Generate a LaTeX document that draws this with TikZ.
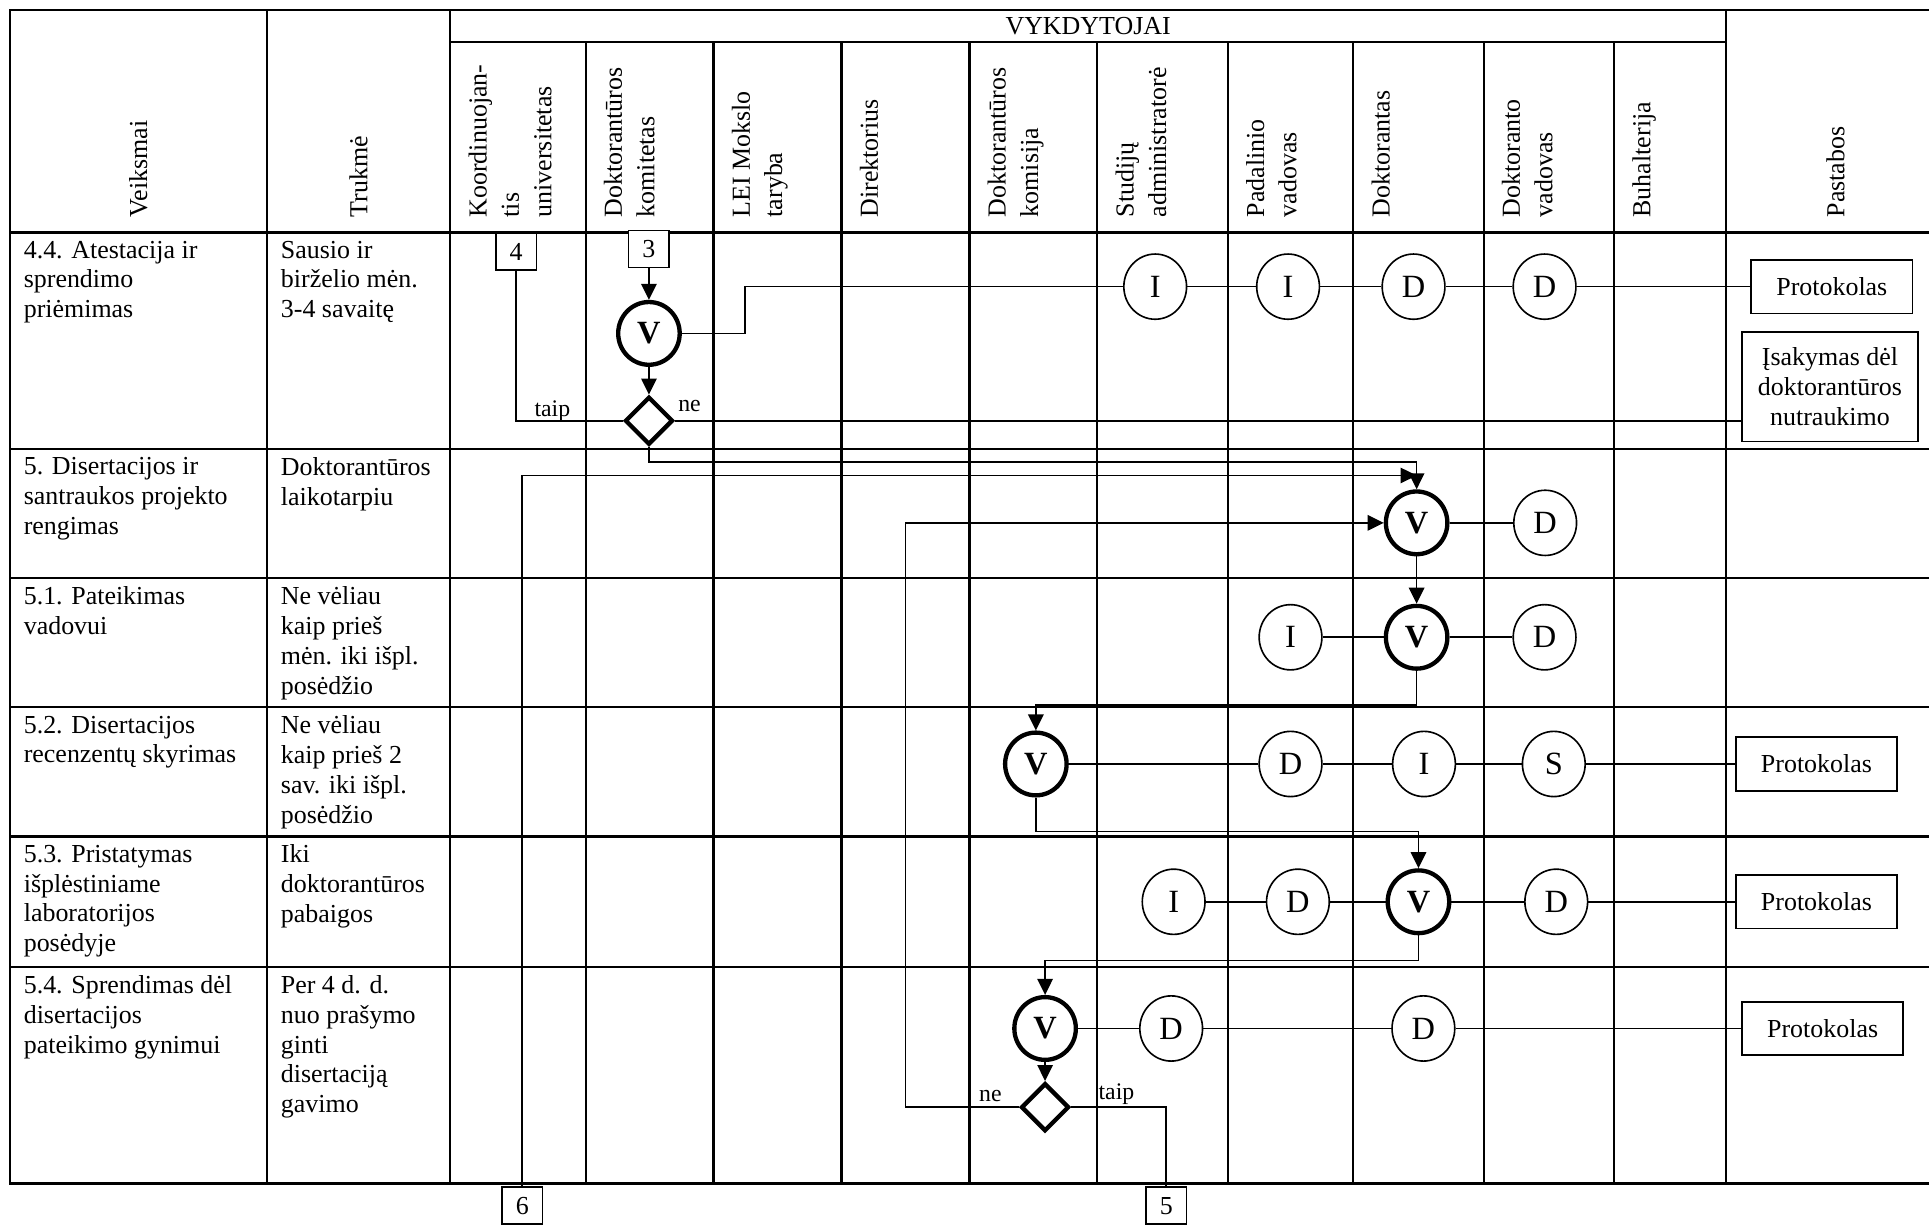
\documentclass[tikz,border=0pt]{standalone}
\usepackage{fontspec}
\setmainfont{Liberation Serif}
\usetikzlibrary{arrows.meta,shapes.geometric}

\tikzset{
  tabline/.style={line width=1pt,line cap=rect},
  wire/.style={line width=0.75pt},
  actor/.style={ellipse,draw,line width=0.75pt,fill=white,minimum width=1.02cm,minimum height=1.06cm,inner sep=0pt,font=\fontsize{15}{17}\selectfont},
  actorV/.style={actor,line width=2pt,minimum width=1.0cm,minimum height=1.02cm,font=\fontsize{15}{17}\selectfont\bfseries},
  decision/.style={diamond,draw,line width=2pt,fill=white,minimum size=0.78cm,inner sep=0pt},
  numbox/.style={draw,line width=0.75pt,fill=white,minimum width=0.66cm,minimum height=0.6cm,inner sep=0pt},
  docbox/.style={draw,line width=0.75pt,fill=white,minimum width=2.62cm,minimum height=0.87cm,align=center},
  headtxt/.style={rotate=90,anchor=north west,align=left,inner sep=0pt,font=\fontsize{12}{15}\selectfont},
  celltxt/.style={anchor=north west,align=left,inner sep=0pt},
  lbl/.style={anchor=base,inner sep=0pt,font=\fontsize{11}{13}\selectfont}
}

\begin{document}
\begin{tikzpicture}[font=\fontsize{12}{13.8}\selectfont, >={Triangle[length=0.26cm,width=0.25cm]}]
  \useasboundingbox (0,0) rectangle (31.36,-19.92);
  \draw[tabline] (0.16,-0.16) -- (31.36,-0.16);
  \draw[tabline] (7.32,-0.68) -- (28.06,-0.68);
  \foreach \y in {-3.78,-7.30,-9.40,-11.50,-13.60,-15.72,-19.24} \draw[tabline] (0.16,\y) -- (31.36,\y);
  \foreach \x in {0.16,4.34,7.32,28.06} \draw[tabline] (\x,-0.16) -- (\x,-19.24);
  \foreach \x in {9.52,11.60,13.68,15.76,17.84,19.96,22.00,24.12,26.24} \draw[tabline] (\x,-0.68) -- (\x,-19.24);

  \node (vykd) at (17.69,-0.42) {VYKDYTOJAI};
  \node[rotate=90,anchor=west,inner sep=0pt] (hact) at (2.25,-3.54) {Veiksmai};
  \node[rotate=90,anchor=west,inner sep=0pt] (htime) at (5.83,-3.54) {Trukmė};
  \node[rotate=90,anchor=west,inner sep=0pt] (hnote) at (29.84,-3.54) {Pastabos};
  \foreach \x/\t [count=\i] in {7.32/{Koordinuojan-\\tis\\universitetas}, 9.52/{Doktorantūros\\komitetas},
      11.60/{LEI Mokslo\\taryba}, 13.68/Direktorius, 15.76/{Doktorantūros\\komisija},
      17.84/{Studijų\\administratorė}, 19.96/{Padalinio\\vadovas}, 22.00/Doktorantas,
      24.12/{Doktoranto\\vadovas}, 26.24/Buhalterija}
    \node[headtxt] (h\i) at (\x+0.29,-3.54) {\t};

  \foreach \y/\a/\t [count=\i] in {
      -3.91/{4.4. Atestacija ir\\sprendimo\\priėmimas}/{Sausio ir\\birželio mėn.\\3-4 savaitę},
      -7.43/{5. Disertacijos ir\\santraukos projekto\\rengimas}/{Doktorantūros\\laikotarpiu},
      -9.53/{5.1. Pateikimas\\vadovui}/{Ne vėliau\\kaip prieš\\mėn. iki išpl.\\posėdžio},
      -11.63/{5.2. Disertacijos\\recenzentų skyrimas}/{Ne vėliau\\kaip prieš 2\\sav. iki išpl.\\posėdžio},
      -13.73/{5.3. Pristatymas\\išplėstiniame\\laboratorijos\\posėdyje}/{Iki\\doktorantūros\\pabaigos},
      -15.85/{5.4. Sprendimas dėl\\disertacijos\\pateikimo gynimui}/{Per 4 d. d.\\nuo prašymo\\ginti\\disertaciją\\gavimo}}
    {
    \node[celltxt] (act\i) at (0.38,\y) {\a};
    \node[celltxt] (dur\i) at (4.56,\y) {\t};
    }

  \node[numbox] (n4) at (8.39,-4.09) {4};
  \node[numbox] (n3) at (10.55,-4.05) {3};
  \node[actorV] (v1) at (10.55,-5.42) {V};
  \node[decision] (q1) at (10.55,-6.84) {};
  \node[actor] (i1) at (18.78,-4.66) {I};
  \node[actor] (i2) at (20.94,-4.66) {I};
  \node[actor] (d1) at (22.98,-4.66) {D};
  \node[actor] (d2) at (25.11,-4.66) {D};
  \node[docbox] (p1) at (29.78,-4.66) {Protokolas};
  \node[docbox,minimum width=2.86cm,minimum height=1.78cm] (p0) at (29.75,-6.29) {Įsakymas dėl\\doktorantūros\\nutraukimo};
  \node[lbl] (taip1) at (8.98,-6.77) {taip};
  \node[lbl] (ne1) at (11.21,-6.69) {ne};

  \node[actorV] (v2) at (23.03,-8.50) {V};
  \node[actor] (d3) at (25.12,-8.50) {D};

  \node[actor] (i3) at (20.98,-10.36) {I};
  \node[actorV] (v3) at (23.03,-10.36) {V};
  \node[actor] (d4) at (25.11,-10.36) {D};

  \node[actorV] (v4) at (16.84,-12.42) {V};
  \node[actor] (d5) at (20.98,-12.42) {D};
  \node[actor] (i4) at (23.15,-12.42) {I};
  \node[actor] (s1) at (25.26,-12.42) {S};
  \node[docbox] (p2) at (29.53,-12.42) {Protokolas};

  \node[actor] (i5) at (19.08,-14.66) {I};
  \node[actor] (d6) at (21.10,-14.66) {D};
  \node[actorV] (v5) at (23.06,-14.66) {V};
  \node[actor] (d7) at (25.30,-14.66) {D};
  \node[docbox] (p3) at (29.53,-14.66) {Protokolas};

  \node[actorV] (v6) at (16.99,-16.72) {V};
  \node[actor] (d8) at (19.04,-16.72) {D};
  \node[actor] (d9) at (23.14,-16.72) {D};
  \node[docbox] (p4) at (29.63,-16.72) {Protokolas};
  \node[decision] (q2) at (16.99,-18.00) {};
  \node[lbl] (ne2) at (16.10,-17.91) {ne};
  \node[lbl] (taip2) at (18.15,-17.87) {taip};

  \node[numbox] (n6) at (8.49,-19.60) {6};
  \node[numbox] (n5) at (18.96,-19.60) {5};
  \coordinate (m6) at (23.03,-7.73);

  \draw[wire,->] (n3) -- (v1);
  \draw[wire,->] (v1) -- (q1);
  \draw[wire] (v1.east) -- ++(1.03,0) |- (i1.west);
  \draw[wire] (i1) -- (i2) -- (d1) -- (d2) -- (p1);
  \draw[wire] (n4.south) |- (q1.west);
  \draw[wire] (q1.east) -- (q1.east -| p0.west);
  \draw[wire,->] (q1.south) -- ++(0,-0.25) -| (v2.north);
  \draw[wire,->] (n6.north) |- (m6);
  \draw[wire] (v2) -- (d3);
  \draw[wire,->] (v2) -- (v3);
  \draw[wire] (i3) -- (v3) -- (d4);
  \draw[wire,->] (v3.south) -- ++(0,-0.56) -| (v4.north);
  \draw[wire] (v4) -- (d5) -- (i4) -- (s1) -- (p2);
  \draw[wire,->] (v4.south) -- ++(0,-0.55) -| (v5.north);
  \draw[wire] (i5) -- (d6) -- (v5) -- (d7) -- (p3);
  \draw[wire,->] (v5.south) -- ++(0,-0.41) -| (v6.north);
  \draw[wire] (v6) -- (d8) -- (d9) -- (p4);
  \draw[wire,->] (v6) -- (q2);
  \draw[wire,->] (q2.west) -- (14.72,-18.00) |- (v2.west);
  \draw[wire] (q2.east) -| (n5.north);
\end{tikzpicture}
\end{document}
